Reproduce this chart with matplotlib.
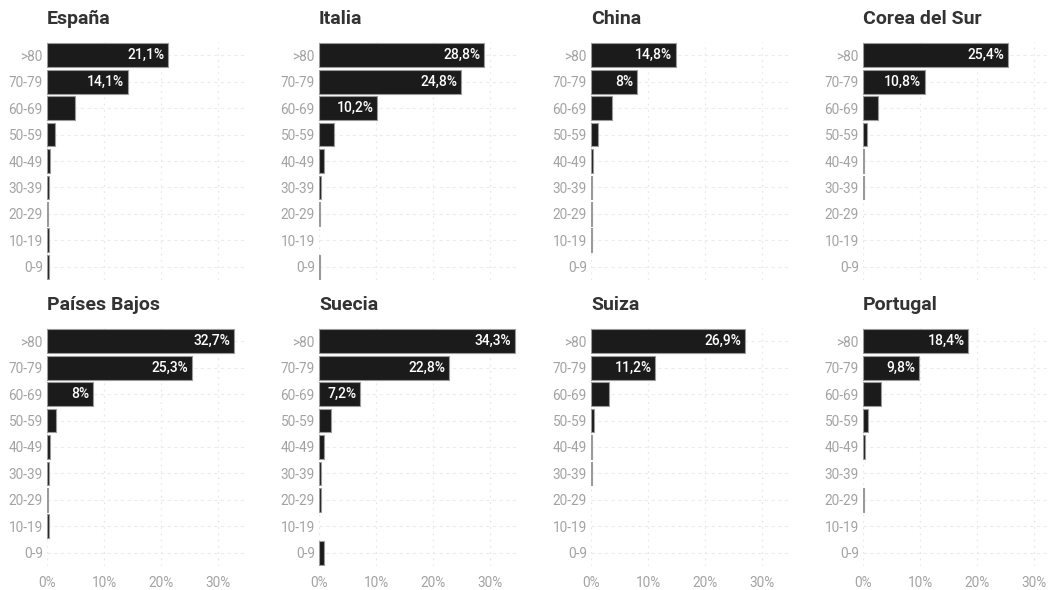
import matplotlib
matplotlib.use('Agg')
from matplotlib import pyplot as plt

plt.rcParams['font.family'] = ['Roboto', 'DejaVu Sans']

age_groups = ['>80', '70-79', '60-69', '50-59', '40-49', '30-39', '20-29', '10-19', '0-9']
countries = ['España', 'Italia', 'China', 'Corea del Sur',
             'Países Bajos', 'Suecia', 'Suiza', 'Portugal']

espana = [21.1, 14.1, 4.9, 1.4, 0.6, 0.3, 0.2, 0.3, 0.3]
italia = [28.8, 24.8, 10.2, 2.6, 0.9, 0.3, 0.1, 0.0, 0.2]
china = [14.8, 8.0, 3.6, 1.3, 0.4, 0.2, 0.2, 0.2, 0.0]
corea = [25.4, 10.8, 2.7, 0.7, 0.2, 0.2, 0.0, 0.0, 0.0]
paises_bajos = [32.7, 25.3, 8.0, 1.6, 0.5, 0.3, 0.1, 0.3, 0.0]
suecia = [34.3, 22.8, 7.2, 2.1, 0.8, 0.4, 0.3, 0.0, 0.8]
suiza = [26.9, 11.2, 3.1, 0.6, 0.1, 0.2, 0.0, 0.0, 0.0]
portugal = [18.4, 9.8, 3.2, 0.8, 0.3, 0.0, 0.1, 0.0, 0.0]

series = [espana, italia, china, corea, paises_bajos, suecia, suiza, portugal]
x_ticks = [0, 10, 20, 30]

fig = plt.figure(figsize=(10.5, 5.9), dpi=100)

for i, (name, values) in enumerate(zip(countries, series)):
    row, col = divmod(i, 4)
    left = (47 + col * 272) / 1050
    bottom = 0.5254 if row == 0 else 0.0407
    ax = fig.add_axes([left, bottom, 200 / 1050, 238 / 590])

    positions = list(range(len(age_groups)))
    # no edge on empty bars, otherwise a stray line shows at 0
    edges = [0.8 if v > 0 else 0 for v in values]
    ax.barh(positions, values, height=0.9, color='#1b1b1b',
            edgecolor='#9a9a9a', linewidth=edges, zorder=3)

    # labels inside the big bars
    for pos, val in zip(positions, values):
        if val >= 7:
            text = ('%.1f' % val).replace('.', ',').replace(',0', '') + '%'
            ax.text(val - 0.6, pos, text, color='white', fontsize=10,
                    fontweight='medium', ha='right', va='center', zorder=4)

    ax.set_xlim(0, 35)
    ax.set_ylim(len(age_groups) - 0.5, -0.5)
    ax.set_yticks(positions)
    ax.set_yticklabels(age_groups)
    ax.set_xticks(x_ticks)
    if row == 1:
        ax.set_xticklabels(['%d%%' % t for t in x_ticks])
    else:
        ax.set_xticklabels([])

    ax.tick_params(axis='both', length=0, labelsize=9.8, labelcolor='#a3a3a3')
    ax.tick_params(axis='y', pad=3)
    ax.tick_params(axis='x', pad=7)
    for spine in ax.spines.values():
        spine.set_visible(False)

    ax.grid(axis='x', color='#e8e8e8', linestyle=(0, (1.5, 3.5)), linewidth=0.9, zorder=0)
    ax.grid(axis='y', color='#ececec', linestyle=(0, (3, 3)), linewidth=0.8, zorder=0)

    ax.text(0, 1.095, name, transform=ax.transAxes, fontsize=14,
            fontweight='bold', color='#333333', ha='left', va='center')

fig.savefig('out.png', dpi=100)
